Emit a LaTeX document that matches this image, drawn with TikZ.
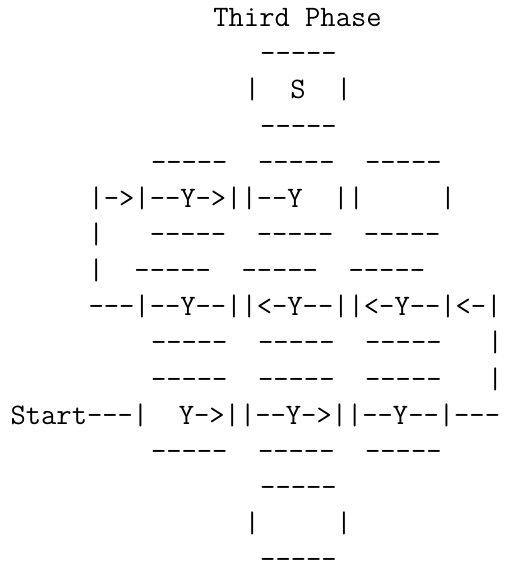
\documentclass[tikz,border=0pt]{standalone}
\usepackage{tikz}
\tikzset{
  asciirow/.style={
    font=\ttfamily\fontsize{29.7}{36}\selectfont,
    anchor=base west, inner sep=0pt, text=black
  }
}
\begin{document}
\begin{tikzpicture}[x=15.6pt, y=-36.13pt]
  \useasboundingbox (-0.667,-0.739) rectangle (31.897,14.816);

  % title and stop box
  \node[asciirow] (title)  at (13,0)  {Third~Phase};
  \node[asciirow] (stopt)  at (16,1)  {-----};
  \node[asciirow] (stopm)  at (15,2)  {|~~S~~|};
  \node[asciirow] (stopb)  at (16,3)  {-----};

  % upper row of cells
  \node[asciirow] (upt)    at (9,4)   {-----~~-----~~-----};
  \node[asciirow] (upm)    at (5,5)   {|->|--Y->||--Y~~||~~~~~|};
  \node[asciirow] (upb)    at (5,6)   {|~~~-----~~-----~~-----};

  % middle row of cells
  \node[asciirow] (midt)   at (5,7)   {|~~-----~~-----~~-----};
  \node[asciirow] (midm)   at (5,8)   {---|--Y--||<-Y--||<-Y--|<-|};
  \node[asciirow] (midb)   at (9,9)   {-----~~-----~~-----~~~|};

  % lower row of cells
  \node[asciirow] (lowt)   at (9,10)  {-----~~-----~~-----~~~|};
  \node[asciirow] (lowm)   at (0,11)  {Start---|~~Y->||--Y->||--Y--|---};
  \node[asciirow] (lowb)   at (9,12)  {-----~~-----~~-----};

  % bottom box
  \node[asciirow] (bott)   at (16,13) {-----};
  \node[asciirow] (botm)   at (15,14) {|~~~~~|};
  \node[asciirow] (botb)   at (16,15) {-----};
\end{tikzpicture}
\end{document}
